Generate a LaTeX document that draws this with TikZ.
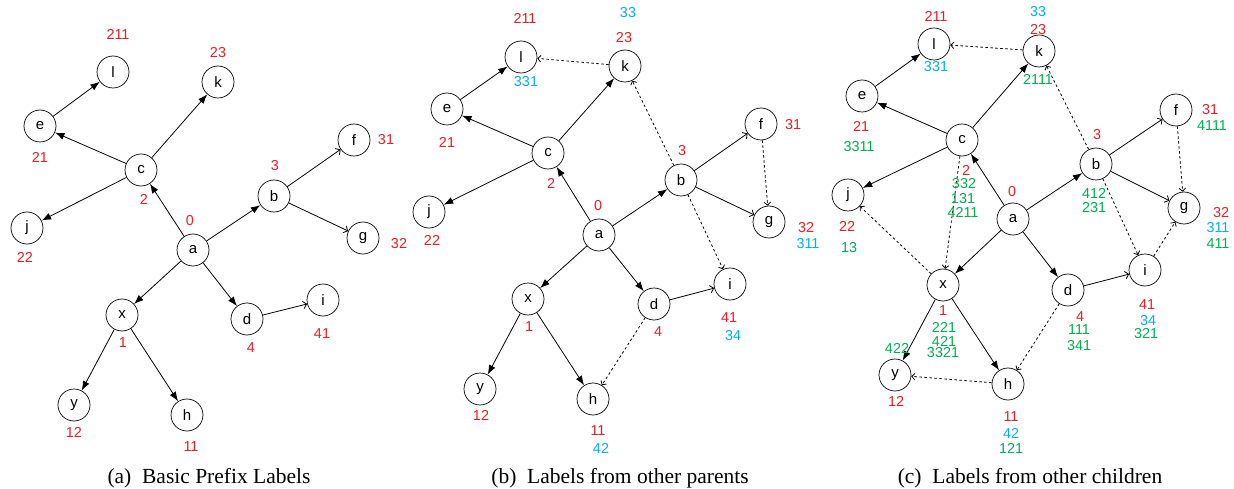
\documentclass[tikz,border=0pt]{standalone}
\usepackage{fontspec}
\setmainfont{Liberation Serif}
\newfontfamily\lblfont{Liberation Sans}
\usetikzlibrary{arrows.meta}
\definecolor{lred}{RGB}{237,28,36}
\definecolor{lblue}{RGB}{0,176,240}
\definecolor{lgreen}{RGB}{0,176,80}
\newcommand\treeedges[1]{%
  \draw[sol] (#1a) -- (#1c);
  \draw[sol] (#1a) -- (#1b);
  \draw[sol] (#1a) -- (#1x);
  \draw[sol] (#1a) -- (#1d);
  \draw[sol] (#1c) -- (#1e);
  \draw[sol] (#1c) -- (#1k);
  \draw[sol] (#1c) -- (#1j);
  \draw[sol] (#1e) -- (#1l);
  \draw[opn] (#1b) -- (#1f);
  \draw[opn] (#1b) -- (#1g);
  \draw[sol] (#1x) -- (#1y);
  \draw[sol] (#1x) -- (#1h);
  \draw[opn] (#1d) -- (#1i);
}
\begin{document}
\begin{tikzpicture}[x=1pt,y=-1pt,
  vtx/.style={circle,draw,line width=0.7pt,minimum size=32pt,inner sep=0pt,font=\lblfont\fontsize{15}{15}\selectfont},
  num/.style={inner sep=0pt,font=\lblfont\fontsize{14.4}{14}\selectfont},
  rd/.style={num,text=lred},
  bl/.style={num,text=lblue},
  gr/.style={num,text=lgreen},
  sol/.style={line width=0.8pt,-{Latex[length=9.5pt,width=7pt]}},
  opn/.style={line width=0.8pt,-{Straight Barb[length=3.5pt,width=7.5pt]}},
  dsh/.style={line width=0.8pt,dash pattern=on 2.5pt off 2.5pt,-{Straight Barb[length=3pt,width=6.5pt]}},
  captxt/.style={inner sep=0pt,font=\fontsize{21.5}{24}\selectfont}
]
\useasboundingbox (0,0) rectangle (1234,489);

% ---------------- panel (a)
\node[vtx] (Al) at (113,72) {l};
\node[vtx] (Ak) at (218,82) {k};
\node[vtx] (Ae) at (40,126) {e};
\node[vtx] (Ac) at (141,170) {c};
\node[vtx] (Ab) at (274,196) {b};
\node[vtx] (Af) at (354,140) {f};
\node[vtx] (Aj) at (27,228) {j};
\node[vtx] (Ag) at (363,238) {g};
\node[vtx] (Aa) at (193,250) {a};
\node[vtx] (Ax) at (122,315) {x};
\node[vtx] (Ad) at (247,319) {d};
\node[vtx] (Ai) at (323,300) {i};
\node[vtx] (Ay) at (74,405) {y};
\node[vtx] (Ah) at (187,415) {h};
\treeedges{A}
\node[rd] (Ln211) at (118,34) {211};
\node[rd] (Ln23) at (218,53) {23};
\node[rd] (Ln21) at (40,157) {21};
\node[rd] (Ln2) at (144,199) {2};
\node[rd] (Ln3) at (275,166) {3};
\node[rd] (Ln31) at (386,140) {31};
\node[rd] (Ln0) at (190,221) {0};
\node[rd] (Ln22) at (25,257) {22};
\node[rd] (Ln32) at (399,244) {32};
\node[rd] (Ln1) at (123,343) {1};
\node[rd] (Ln4) at (251,348) {4};
\node[rd] (Ln41) at (322,334) {41};
\node[rd] (Ln12) at (74,432) {12};
\node[rd] (Ln11) at (191,447) {11};
\node[captxt] (Acap) at (209,478) {(a)\hspace{0.25em} Basic Prefix Labels};

% ---------------- panel (b)
\node[vtx] (Bl) at (521,57) {l};
\node[vtx] (Bk) at (625,66) {k};
\node[vtx] (Be) at (447,109) {e};
\node[vtx] (Bc) at (548,153) {c};
\node[vtx] (Bb) at (681,180) {b};
\node[vtx] (Bf) at (761,124) {f};
\node[vtx] (Bj) at (429,212) {j};
\node[vtx] (Bg) at (769,222) {g};
\node[vtx] (Ba) at (599,235) {a};
\node[vtx] (Bx) at (528,299) {x};
\node[vtx] (Bd) at (654,304) {d};
\node[vtx] (Bi) at (730,284) {i};
\node[vtx] (By) at (480,389) {y};
\node[vtx] (Bh) at (593,399) {h};
\treeedges{B}
\draw[dsh] (Bk) -- (Bl);
\draw[dsh] (Bb) -- (Bk);
\draw[dsh] (Bb) -- (Bi);
\draw[dsh] (Bf) -- (Bg);
\draw[dsh] (Bd) -- (Bh);
\node[rd] (Mn211) at (525,18) {211};
\node[bl] (Mn33) at (628,13) {33};
\node[rd] (Mn23) at (624,38) {23};
\node[bl] (Mn331) at (526,82) {331};
\node[rd] (Mn21) at (447,142) {21};
\node[rd] (Mn2) at (551,183) {2};
\node[rd] (Mn3) at (682,151) {3};
\node[rd] (Mn31) at (793,125) {31};
\node[rd] (Mn0) at (598,206) {0};
\node[rd] (Mn22) at (432,240) {22};
\node[rd] (Mn32) at (806,228) {32};
\node[bl] (Mn311) at (808,244) {311};
\node[rd] (Mn1) at (529,327) {1};
\node[rd] (Mn4) at (658,332) {4};
\node[rd] (Mn41) at (729,318) {41};
\node[bl] (Mn34) at (733,336) {34};
\node[rd] (Mn12) at (481,415) {12};
\node[rd] (Mn11) at (598,431) {11};
\node[bl] (Mn42) at (601,448) {42};
\node[captxt] (Bcap) at (620,478) {(b)\hspace{0.25em} Labels from other parents};

% ---------------- panel (c)
\node[vtx] (Cl) at (934,44) {l};
\node[vtx] (Ck) at (1039,51) {k};
\node[vtx] (Ce) at (862,96) {e};
\node[vtx] (Cc) at (962,140) {c};
\node[vtx] (Cb) at (1096,164) {b};
\node[vtx] (Cf) at (1176,110) {f};
\node[vtx] (Cj) at (848,195) {j};
\node[vtx] (Cg) at (1184,208) {g};
\node[vtx] (Ca) at (1013,219) {a};
\node[vtx] (Cx) at (943,285) {x};
\node[vtx] (Cd) at (1068,290) {d};
\node[vtx] (Ci) at (1145,270) {i};
\node[vtx] (Cy) at (895,375) {y};
\node[vtx] (Ch) at (1008,384) {h};
\treeedges{C}
\draw[dsh] (Ck) -- (Cl);
\draw[dsh] (Cb) -- (Ck);
\draw[dsh] (Cb) -- (Ci);
\draw[dsh] (Cf) -- (Cg);
\draw[dsh] (Cd) -- (Ch);
\draw[dsh] (Ci) -- (Cg);
\draw[dsh] (Cx) -- (Cj);
\draw[dsh] (Cc) -- (Cx);
\draw[dsh] (Ch) -- (Cy);
\node[rd] (Nn211) at (936,16) {211};
\node[bl] (Nn33) at (1038,12) {33};
\node[rd] (Nn23) at (1038,30) {23};
\node[bl] (Nn331) at (936,67) {331};
\node[gr] (Nn2111) at (1038,79) {2111};
\node[rd] (Nn21) at (861,126) {21};
\node[gr] (Nn3311) at (859,147) {3311};
\node[rd] (Nn3) at (1097,135) {3};
\node[rd] (Nn31) at (1210,110) {31};
\node[gr] (Nn4111) at (1212,126) {4111};
\node[rd] (Nn2) at (966,170) {2};
\node[gr] (Nn332) at (964,184) {332};
\node[gr] (Nn131) at (963,199) {131};
\node[gr] (Nn4211) at (963,212) {4211};
\node[rd] (Nn0) at (1012,192) {0};
\node[gr] (Nn412) at (1094,193) {412};
\node[gr] (Nn231) at (1094,208) {231};
\node[rd] (Nn22) at (847,226) {22};
\node[gr] (Nn13) at (849,248) {13};
\node[rd] (Nn32) at (1221,213) {32};
\node[bl] (Nn311) at (1218,228) {311};
\node[gr] (Nn411) at (1218,244) {411};
\node[rd] (Nn1) at (943,311) {1};
\node[gr] (Nn221) at (944,327) {221};
\node[gr] (Nn421) at (944,341) {421};
\node[gr] (Nn3321) at (943,353) {3321};
\node[gr] (Nn422) at (897,348) {422};
\node[rd] (Nn12) at (896,401) {12};
\node[rd] (Nn4) at (1080,317) {4};
\node[gr] (Nn111) at (1079,330) {111};
\node[gr] (Nn341) at (1079,346) {341};
\node[rd] (Nn41) at (1147,305) {41};
\node[bl] (Nn34) at (1148,321) {34};
\node[gr] (Nn321) at (1146,334) {321};
\node[rd] (Nn11) at (1011,417) {11};
\node[bl] (Nn42) at (1011,433) {42};
\node[gr] (Nn121) at (1011,448) {121};
\node[captxt] (Ccap) at (1030,478) {(c)\hspace{0.25em} Labels from other children};
\end{tikzpicture}
\end{document}
